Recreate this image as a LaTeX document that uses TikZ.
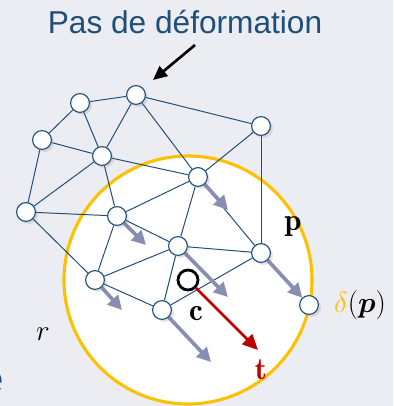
\documentclass[tikz,border=0pt]{standalone}
\usepackage{amsmath,amssymb,bm}
\usepackage{fontspec}
\setsansfont{Liberation Sans}
\usetikzlibrary{arrows.meta,shadows}
\definecolor{bgc}{RGB}{236,236,243}
\definecolor{navy}{RGB}{31,78,121}
\definecolor{gold}{RGB}{255,192,0}
\definecolor{mvc}{RGB}{136,141,178}
\definecolor{dred}{RGB}{192,0,0}
\pgfdeclarelayer{bg}
\pgfsetlayers{bg,main}

\begin{document}
\begin{tikzpicture}[x=0.025cm,y=-0.025cm,
  pt/.style={circle,draw=navy,fill=white,line width=0.8pt,minimum size=0.47cm,inner sep=0pt,
    drop shadow={shadow xshift=1.8pt,shadow yshift=-1.8pt,opacity=0.22}},
  ed/.style={navy,line width=0.7pt},
  mv/.style={mvc,line width=2.6pt,-{Triangle[length=10pt,width=10pt]}},
  lb/.style={font=\fontsize{22}{26}\selectfont}]
\clip (0,0) rectangle (393,406);
% mesh points
\node[pt] (n1) at (80,103) {};
\node[pt] (n2) at (136,95) {};
\node[pt] (n3) at (42,140) {};
\node[pt] (n4) at (102,156) {};
\node[pt] (n5) at (26,212) {};
\node[pt] (n6) at (117,216) {};
\node[pt] (n7) at (198,177) {};
\node[pt] (n8) at (261,126) {};
\node[pt] (n9) at (178,246) {};
\node[pt] (n10) at (261,253) {};
\node[pt] (n11) at (95,280) {};
\node[pt] (n12) at (162,310) {};
\node[pt] (d) at (309,305) {};
\node[circle,draw=black,line width=2pt,minimum size=0.5cm,inner sep=0pt] (c) at (188,280) {};
% tips of the moves
\coordinate (m7) at (228,210);
\coordinate (m6) at (146,245);
\coordinate (m9) at (228,297);
\coordinate (m11) at (122,310);
\coordinate (m12) at (211,362);
\coordinate (tp) at (258,350);
\coordinate (a0) at (195,45);
\coordinate (a1) at (153,80);
\begin{pgfonlayer}{bg}
\fill[bgc] (0,0) rectangle (393,406);
\draw[gold,fill=white,line width=2.2pt] (c) circle[radius=124];
\foreach \a/\b in {n1/n2,n2/n8,n1/n3,n1/n4,n2/n4,n2/n7,n3/n4,n3/n5,n4/n5,n4/n6,n4/n7,n5/n6,n5/n11,
  n6/n7,n7/n8,n8/n10,n7/n9,n7/n10,n6/n9,n6/n11,n9/n10,n9/n11,n9/n12,n11/n12,n12/n10}
  \draw[ed] (\a) -- (\b);
\draw[mv] (n7) -- (m7);
\draw[mv] (n6) -- (m6);
\draw[mv] (n9) -- (m9);
\draw[mv] (n11) -- (m11);
\draw[mv] (n12) -- (m12);
\draw[mv] (n10) -- (d);
\end{pgfonlayer}
\draw[dred,line width=2pt,-{Triangle[length=11pt,width=10pt]}] (c) -- (tp);
\draw[black,line width=1.9pt,-{Triangle[length=10pt,width=9pt]}] (a0) -- (a1);
% labels
\node[font=\sffamily\fontsize{22.5}{26}\selectfont,text=navy] (ttl) at (185,22) {Pas de déformation};
\node[font=\sffamily\fontsize{30}{34}\selectfont,text=navy,anchor=east,inner sep=0pt] (cut) at (4,382) {e};
\node[lb] (lp) at (293,227) {$\mathbf{p}$};
\node[lb] (lc) at (196,314) {$\mathbf{c}$};
\node[lb,text=dred] (lt) at (261,370) {$\mathbf{t}$};
\node[lb] (lr) at (43,334) {$r$};
\node[lb] (ld) at (360,305) {${\color{gold}\delta}(\bm{p})$};
\end{tikzpicture}
\end{document}
